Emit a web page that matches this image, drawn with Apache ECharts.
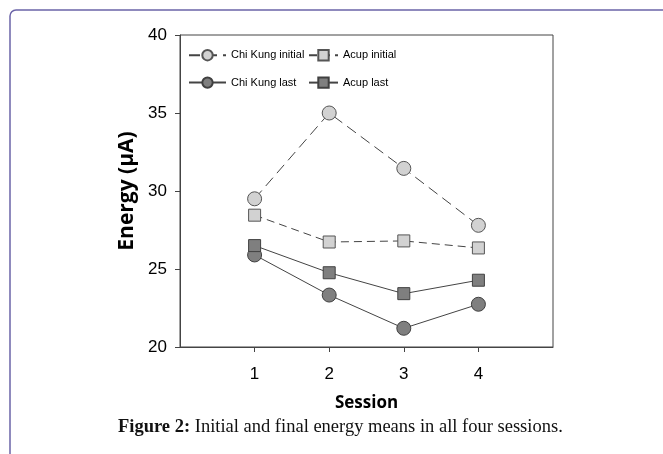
<!DOCTYPE html>
<html>
<head>
<meta charset="utf-8">
<script src="https://cdn.jsdelivr.net/npm/echarts@6/dist/echarts.min.js"></script>
<style>html,body{margin:0;padding:0;background:#fff;}#c{width:663px;height:454px;}</style>
</head>
<body>
<div id="c"></div>
<script>
const sessions = [1, 2, 3, 4];
const chiKungInitial = [29.5, 35.0, 31.45, 27.8];
const acupInitial = [28.45, 26.73, 26.8, 26.35];
const chiKungLast = [25.9, 23.33, 21.2, 22.74];
const acupLast = [26.5, 24.76, 23.42, 24.28];
const yTicks = [20, 25, 30, 35, 40];

const pair = arr => sessions.map((s, i) => [s, arr[i]]);
const chart = echarts.init(document.getElementById('c'));
const lightFill = '#d2d2d2', darkFill = '#7f7f7f';
chart.setOption({
  animation: false,
  backgroundColor: '#fff',
  graphic: [{
    type: 'rect', silent: true,
    shape: { x: 10, y: 10, width: 700, height: 500, r: [6, 0, 0, 0] },
    style: { fill: 'none', stroke: '#6b64a8', lineWidth: 1.5 }
  }],
  title: {
    left: 118, top: 418, padding: 0,
    text: '{b|Figure 2:} Initial and final energy means in all four sessions.',
    textStyle: {
      fontFamily: 'Liberation Serif', fontSize: 18.5, fontWeight: 'normal', color: '#111',
      rich: { b: { fontFamily: 'Liberation Serif', fontSize: 18.5, fontWeight: 'bold', color: '#111' } }
    }
  },
  grid: { left: 180, top: 35, width: 373, height: 312, show: true, borderColor: '#444', borderWidth: 1, backgroundColor: 'transparent' },
  legend: [{
    left: 188, top: 49, padding: 0, orient: 'vertical', itemGap: 15, itemWidth: 37, itemHeight: 13,
    data: ['Chi Kung initial', 'Chi Kung last'],
    textStyle: { fontFamily: 'Arial, Liberation Sans', fontSize: 11, color: '#000' }
  }, {
    left: 308, top: 49, padding: 0, orient: 'vertical', itemGap: 15, itemWidth: 29, itemHeight: 13,
    data: ['Acup initial', 'Acup last'],
    textStyle: { fontFamily: 'Arial, Liberation Sans', fontSize: 11, color: '#000' }
  }],
  xAxis: {
    type: 'value', min: 0, max: 5, interval: 1,
    name: 'Session', nameLocation: 'middle', nameGap: 48,
    nameTextStyle: { fontFamily: 'Open Sans', fontWeight: 'bold', fontSize: 17, color: '#000' },
    axisLine: { show: true, lineStyle: { color: '#444' } },
    axisTick: { show: true, length: 5, lineStyle: { color: '#444' }, customValues: sessions },
    axisLabel: { customValues: sessions, margin: 19, fontFamily: 'Arial, Liberation Sans', fontSize: 17, color: '#000' },
    splitLine: { show: false }
  },
  yAxis: {
    type: 'value', min: 20, max: 40, interval: 5,
    name: 'Energy (\u03bcA)', nameLocation: 'middle', nameGap: 42,
    nameTextStyle: { fontFamily: 'Open Sans', fontWeight: 'bold', fontSize: 21, color: '#000' },
    axisLine: { show: true, lineStyle: { color: '#444' } },
    axisTick: { show: true, length: 5, lineStyle: { color: '#444' }, customValues: yTicks },
    axisLabel: { customValues: yTicks, margin: 13, fontFamily: 'Arial, Liberation Sans', fontSize: 17, color: '#000' },
    splitLine: { show: false }
  },
  series: [{
    name: 'Chi Kung initial', type: 'line', data: pair(chiKungInitial),
    symbol: 'circle', symbolSize: 14,
    lineStyle: { color: '#444', width: 1, type: [11, 6] },
    itemStyle: { color: lightFill, borderColor: '#555', borderWidth: 1 }
  }, {
    name: 'Acup initial', type: 'line', data: pair(acupInitial),
    symbol: 'rect', symbolSize: 12,
    lineStyle: { color: '#444', width: 1, type: [8, 5] },
    itemStyle: { color: lightFill, borderColor: '#555', borderWidth: 1 }
  }, {
    name: 'Chi Kung last', type: 'line', data: pair(chiKungLast),
    symbol: 'circle', symbolSize: 14,
    lineStyle: { color: '#444', width: 1 },
    itemStyle: { color: darkFill, borderColor: '#404040', borderWidth: 1 }
  }, {
    name: 'Acup last', type: 'line', data: pair(acupLast),
    symbol: 'rect', symbolSize: 12,
    lineStyle: { color: '#444', width: 1 },
    itemStyle: { color: darkFill, borderColor: '#404040', borderWidth: 1 }
  }]
});
</script>
</body>
</html>
